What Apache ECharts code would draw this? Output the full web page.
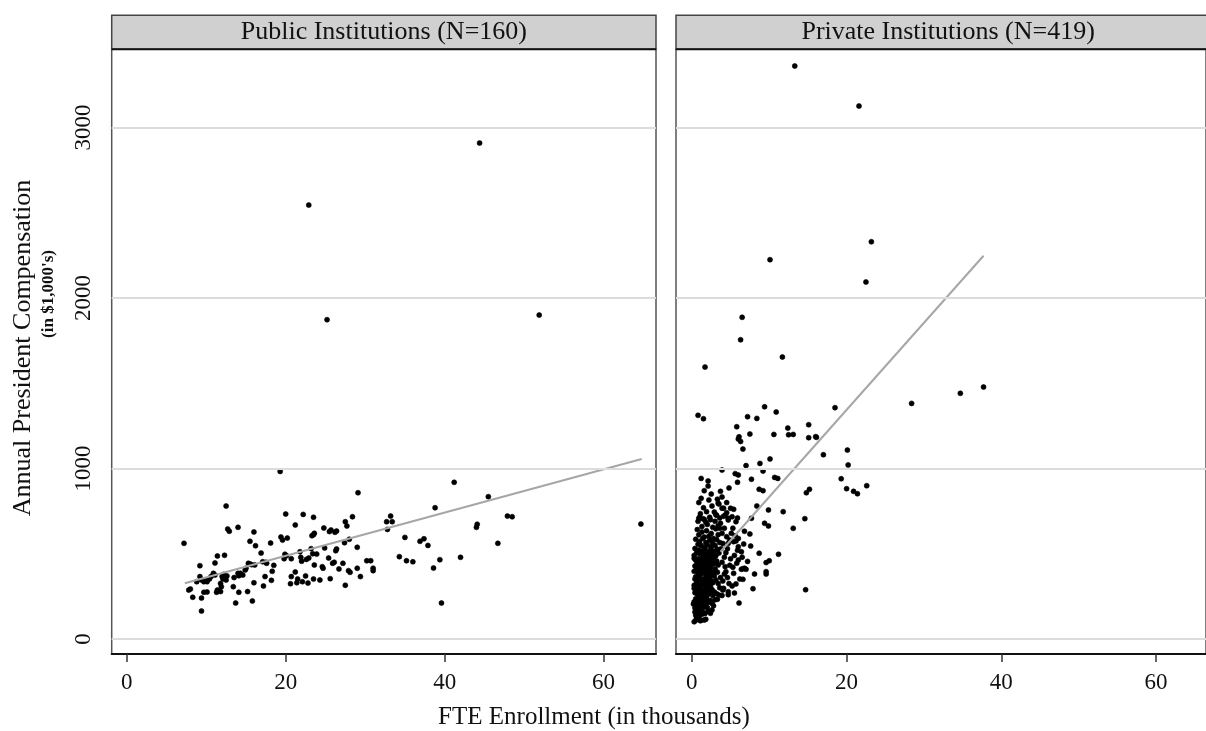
<!DOCTYPE html>
<html>
<head>
<meta charset="utf-8">
<script src="https://cdn.jsdelivr.net/npm/echarts@6/dist/echarts.min.js"></script>
<style>html,body{margin:0;padding:0;background:#fff;}#c{width:1206px;height:731px;}</style>
</head>
<body>
<div id="c"></div>
<script>
// ---- data ----
const xTicks = [0, 20, 40, 60];
const yTicks = [0, 1000, 2000, 3000];
const panelTitles = ['Public Institutions (N=160)', 'Private Institutions (N=419)'];
const xTitle = 'FTE Enrollment (in thousands)';
const yTitle = 'Annual President Compensation';
const ySubTitle = "(in $1,000's)";

const publicPoints = [
[7.2,561],[19.3,983],[12.5,780],[29.1,858],[41.2,919],[45.5,835],[38.8,770],[33.2,721],[47.9,721],[48.5,717],
[20.0,733],[22.2,731],[23.5,714],[28.4,717],[12.7,645],[12.9,632],[14.0,655],[16.0,628],[21.2,669],[24.8,651],
[25.5,630],[25.7,639],[26.4,633],[26.2,626],[27.5,688],[27.7,663],[32.7,688],[33.4,688],[32.8,643],[44.1,673],
[44.0,655],[64.7,674],[23.5,612],[23.6,620],[23.3,606],[19.4,598],[19.6,580],[20.2,592],[15.5,573],[16.2,547],
[18.1,563],[28.0,585],[27.4,565],[35.0,596],[36.9,573],[37.4,588],[37.9,549],[46.7,561],[29.0,538],[24.9,534],
[26.4,528],[26.3,518],[23.2,530],[21.8,512],[16.9,504],[19.9,497],[20.1,489],[23.4,500],[23.9,498],[22.9,475],
[22.6,467],[21.9,479],[22.0,456],[20.7,471],[19.8,471],[25.4,475],[26.1,450],[25.9,444],[27.2,444],[34.3,483],
[35.2,459],[36.0,453],[39.4,465],[42.0,479],[30.2,459],[30.7,459],[31.0,415],[31.0,401],[29.0,415],[29.4,366],
[27.9,401],[28.1,391],[26.7,411],[25.6,354],[24.3,346],[23.5,352],[22.8,328],[21.4,330],[21.5,352],[21.2,393],
[20.7,366],[20.6,324],[22.5,370],[22.1,336],[24.6,424],[24.7,415],[23.6,434],[27.5,315],[39.6,211],[38.6,416],
[16.0,330],[15.8,223],[17.2,311],[18.2,344],[17.4,366],[15.3,444],[15.5,440],[15.7,436],[16.1,434],[14.9,405],
[15.0,415],[14.3,385],[14.6,375],[14.1,371],[14.0,385],[13.5,360],[13.4,307],[14.1,274],[15.2,278],[13.7,211],
[12.6,370],[12.2,379],[12.0,366],[12.1,352],[12.5,346],[12.3,491],[11.4,487],[11.1,446],[11.8,326],[11.9,307],
[11.8,278],[11.3,274],[11.4,287],[10.9,385],[11.1,375],[10.6,366],[10.4,352],[10.1,336],[10.0,346],[9.7,336],
[9.4,346],[9.2,366],[8.8,336],[9.2,430],[8.0,293],[7.8,287],[8.3,245],[9.4,240],[9.4,164],[9.7,274],
[10.1,276],[17.1,453],[17.5,450],[17.6,444],[18.5,432],[18.3,397],[44.4,2909],[22.9,2545],[25.2,1873],[51.9,1900]
];

const privatePoints = [
[13.3,3361],[21.6,3126],[23.2,2330],[10.1,2225],[22.5,2094],[6.5,1887],[6.3,1755],[11.7,1654],[1.7,1595],[37.7,1478],
[34.7,1441],[28.4,1382],[18.5,1357],[16.1,1183],[17.0,1081],[20.1,1108],[20.2,1021],[19.3,940],[20.0,882],[20.9,866],
[21.4,852],[22.6,899],[0.8,1312],[1.5,1292],[9.4,1362],[7.2,1304],[8.4,1294],[10.9,1331],[5.8,1245],[12.4,1237],
[15.1,1257],[6.1,1186],[6.0,1173],[6.3,1159],[7.5,1202],[10.6,1200],[12.5,1198],[13.1,1200],[15.1,1181],[16.0,1187],
[6.6,1114],[10.1,1056],[8.8,1030],[7.0,1017],[3.9,991],[9.2,985],[1.2,942],[2.1,927],[2.1,897],[5.6,970],
[6.0,962],[5.9,919],[7.7,937],[10.7,948],[11.1,942],[4.8,886],[3.7,866],[1.2,825],[3.9,833],[8.7,878],
[9.2,870],[15.2,878],[14.8,858],[3.4,796],[3.9,767],[5.4,761],[8.4,780],[9.9,757],[11.8,747],[1.9,747],
[0.9,708],[1.4,706],[2.3,714],[3.2,726],[4.3,726],[4.7,708],[5.9,710],[7.7,708],[14.6,706],[9.4,679],
[9.9,663],[13.1,649],[6.8,632],[7.5,616],[5.7,575],[6.0,541],[6.7,557],[7.6,545],[4.4,506],[8.7,503],
[11.2,497],[10.0,459],[9.6,448],[4.9,432],[5.3,421],[4.3,424],[6.6,412],[7.0,409],[8.1,381],[9.6,381],
[4.2,381],[6.2,352],[5.2,311],[5.7,323],[7.9,295],[14.7,289],[5.5,270],[4.7,260],[4.0,287],[3.3,233],
[6.1,211],[2.6,170],[2.4,151],[1.8,116],[1.2,111],[0.3,101],[0.8,151],
[3.5,792],[4.1,767],[5.0,767],[1.0,714],[1.6,702],[3.1,729],[4.5,741],[5.2,717],[4.7,698],[5.7,688],
[3.7,679],[5.4,571],[4.7,561],[6.4,512],[6.0,463],[6.4,409],[6.8,415],[6.6,350],[9.6,395],[4.1,297],
[4.7,277],[3.5,258],[0.55,111],[1.1,107],[1.6,111],[0.2,205],[0.3,297],[0.3,473],
[0.7,642],[1.3,628],[1.9,635],[2.5,619],[3.1,646],[2.2,603],[0.9,611],[1.6,598],[2.8,590],[3.4,612],
[0.5,585],[1.0,572],[1.4,590],[1.8,566],[2.3,579],[2.7,561],[3.2,583],[0.8,556],[1.2,548],[2.0,552],
[2.5,540],[3.0,548],[3.6,566],[1.6,537],[0.4,531],[0.9,522],[1.3,515],[1.7,528],[2.1,509],[2.4,524],
[2.9,515],[3.3,527],[0.6,505],[1.1,498],[1.5,503],[1.9,492],[2.6,497],[3.5,504],[2.2,486],[0.3,490],
[1.4,480],[2.8,476],[3.1,488],[0.8,470],[0.5,462],[1.0,455],[1.2,468],[1.6,459],[1.8,446],[2.0,470],
[2.3,452],[2.5,463],[2.9,445],[3.2,458],[0.7,441],[1.3,437],[1.5,449],[2.1,431],[2.7,438],[3.4,434],
[0.4,428],[0.9,420],[1.7,424],[2.4,418],[0.6,410],[1.1,404],[1.4,413],[1.9,398],[2.2,406],[2.6,395],
[3.0,411],[0.3,397],[0.8,388],[1.2,382],[1.6,391],[2.0,385],[2.4,378],[2.8,386],[3.3,392],[1.0,372],
[1.8,368],[0.5,365],[2.3,362],[2.9,370],[0.4,352],[0.7,344],[1.1,356],[1.3,340],[1.5,349],[1.9,336],
[2.1,351],[2.5,342],[2.7,330],[3.1,346],[0.6,327],[0.9,320],[1.4,325],[1.7,318],[2.2,322],[2.4,310],
[3.4,326],[0.3,315],[1.2,305],[2.0,300],[0.5,296],[0.8,288],[1.0,298],[1.5,284],[1.8,292],[2.3,280],
[2.6,290],[2.9,276],[0.4,272],[0.7,264],[1.1,276],[1.3,262],[1.6,270],[2.0,258],[2.2,268],[2.7,255],
[3.2,266],[0.9,250],[1.4,245],[1.9,240],[0.5,236],[0.8,228],[1.2,232],[1.5,220],[1.7,230],[2.1,215],
[2.4,226],[0.3,218],[0.6,206],[1.0,212],[1.3,200],[1.8,204],[2.6,210],[0.9,192],[1.6,188],[0.4,182],
[1.1,176],[2.0,185],[0.7,165],[1.4,160],[0.5,140],[0.9,132],[1.3,145],[0.6,122],[1.7,150],[0.4,158],
[2.1,162],[1.3,660],[2.0,672],[2.7,655],[0.8,690],[1.8,685],[3.4,665],[2.4,700],[1.1,735],[2.9,745],
[3.6,710],[1.5,770],[2.6,780],[0.9,800],[2.2,815],[4.2,650],[3.9,620],[4.5,600],[4.0,560],[3.8,530],
[4.2,480],[3.9,450],[4.4,395],[3.7,360],[4.0,340],[3.6,300],[3.9,255],[3.0,230],[2.8,195],[4.6,530],
[5.1,620],[5.3,650],[4.9,580],[5.5,490],[5.0,470],[5.8,445],[4.6,360],[5.4,385],[4.8,325],[5.9,520],
[6.5,480],[7.2,455],[6.0,590],[5.6,605],[3.3,820],[2.5,850],[1.6,870],[4.5,800],[4.1,720],[3.0,690],
[3.6,650]
];

const publicFit = [[7.3, 327], [64.8, 1056]];
const privateFit = [[3.7, 512], [37.7, 2248]];

// ---- layout / style ----
const FONT = 'Liberation Serif';
const TXT = '#111';
const G = [
  { left: 111.7, top: 49.3, width: 544.3, height: 604.7 },
  { left: 676, top: 49.3, width: 544.3, height: 604.7 }
];
const xRange = [[-1.9, 66.6], [-2.05, 66.45]];
const yRange = [-88, 3459];

function xAxisDef(i) {
  return {
    type: 'value', gridIndex: i, min: xRange[i][0], max: xRange[i][1],
    position: 'bottom',
    axisLine: { show: true, onZero: false, lineStyle: { color: '#111', width: 2 } },
    axisTick: { show: true, customValues: xTicks, length: 8, lineStyle: { color: '#333', width: 1.5 } },
    axisLabel: { show: true, customValues: xTicks, formatter: v => String(v), margin: 17,
      fontFamily: FONT, fontSize: 23, color: TXT },
    splitLine: { show: false }
  };
}
function yAxisDef(i) {
  const show = i === 0;
  return {
    type: 'value', gridIndex: i, min: yRange[0], max: yRange[1],
    axisLine: { show: false },
    axisTick: { show: show, customValues: yTicks, length: 7, lineStyle: { color: '#333', width: 1.5 } },
    axisLabel: { show: show, customValues: yTicks, formatter: v => String(v), rotate: 90, margin: 16,
      fontFamily: FONT, fontSize: 23, color: TXT },
    splitLine: { show: false }
  };
}
function gridLines(i) {
  return {
    type: 'line', xAxisIndex: i, yAxisIndex: i, data: [], z: 1, silent: true,
    markLine: {
      silent: true, symbol: ['none', 'none'], animation: false,
      label: { show: false },
      lineStyle: { color: '#dcdcdc', width: 2, type: 'solid' },
      data: yTicks.map(v => ({ yAxis: v }))
    }
  };
}
function scatter(i, pts) {
  return {
    type: 'scatter', xAxisIndex: i, yAxisIndex: i, data: pts, z: 2,
    symbol: 'circle', symbolSize: 5, itemStyle: { color: '#000', borderColor: '#000', borderWidth: 0.6, opacity: 1 },
    animation: false
  };
}
function fit(i, pts) {
  return {
    type: 'line', xAxisIndex: i, yAxisIndex: i, data: pts, z: 3, symbol: 'none',
    lineStyle: { color: '#a6a6a6', width: 2 }, animation: false
  };
}
function header(i) {
  const g = G[i];
  return [
    { type: 'rect', z: 10, shape: { x: g.left, y: 15.3, width: g.width, height: 34 },
      style: { fill: '#d0d0d0', stroke: '#444', lineWidth: 1.5 } },
    { type: 'line', z: 11, shape: { x1: g.left, y1: 49.3, x2: g.left + g.width, y2: 49.3 },
      style: { stroke: '#111', lineWidth: 2 } },
    { type: 'text', z: 12, x: g.left + g.width / 2, y: 32.5,
      style: { text: panelTitles[i], font: '26px "' + FONT + '"', fill: TXT, textAlign: 'center', textVerticalAlign: 'middle' } }
  ];
}

const chart = echarts.init(document.getElementById('c'));
chart.setOption({
  backgroundColor: '#fff',
  animation: false,
  grid: G.map(g => Object.assign({ show: true, borderColor: '#555', borderWidth: 1.5, backgroundColor: '#fff' }, g)),
  xAxis: [xAxisDef(0), xAxisDef(1)],
  yAxis: [yAxisDef(0), yAxisDef(1)],
  series: [
    gridLines(0), gridLines(1),
    scatter(0, publicPoints), scatter(1, privatePoints),
    fit(0, publicFit), fit(1, privateFit)
  ],
  graphic: [].concat(header(0), header(1), [
    { type: 'text', z: 12, x: 594, y: 717.6,
      style: { text: xTitle, font: '25px "' + FONT + '"', fill: TXT, textAlign: 'center', textVerticalAlign: 'middle' } },
    { type: 'text', z: 12, x: 23, y: 348, rotation: Math.PI / 2,
      style: { text: yTitle, font: '26px "' + FONT + '"', fill: TXT, textAlign: 'center', textVerticalAlign: 'middle' } },
    { type: 'text', z: 12, x: 49, y: 294, rotation: Math.PI / 2,
      style: { text: ySubTitle, font: 'bold 17px "' + FONT + '"', fill: TXT, textAlign: 'center', textVerticalAlign: 'middle' } }
  ])
});
</script>
</body>
</html>
